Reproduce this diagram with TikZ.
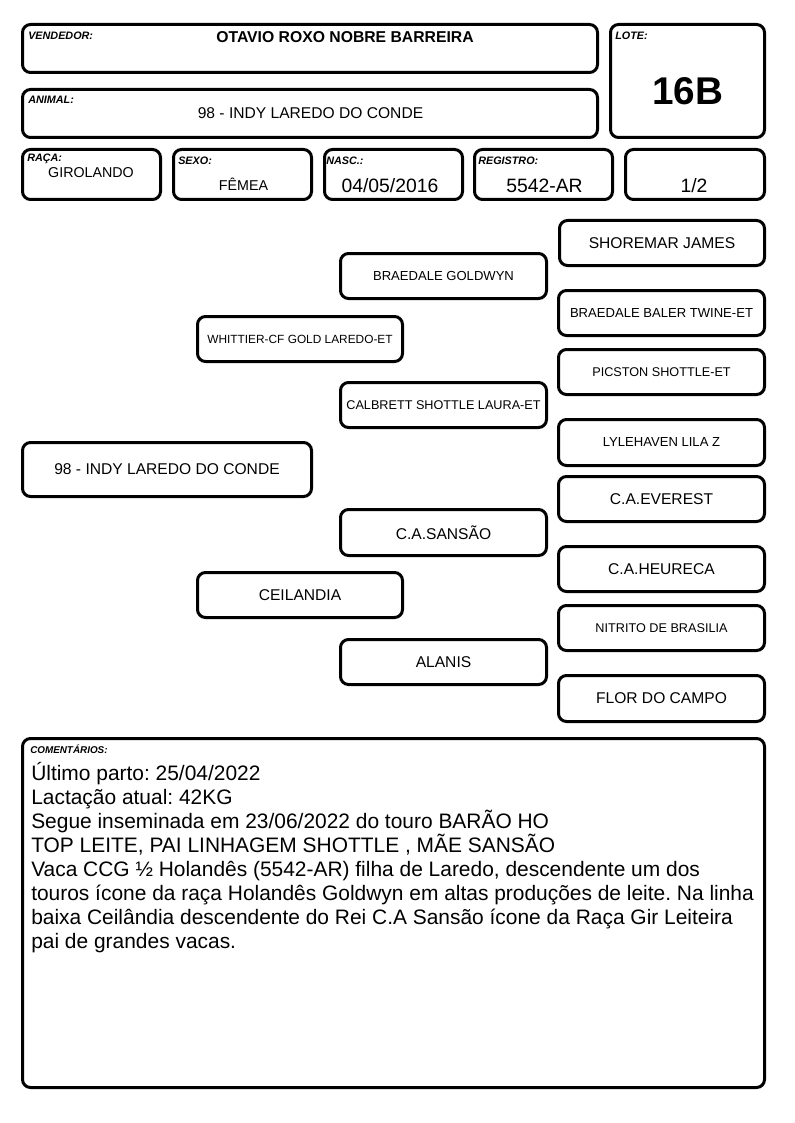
\documentclass[tikz,border=0pt]{standalone}
\usepackage{fontspec}
\setmainfont{Liberation Sans}
\usetikzlibrary{fit}
\frenchspacing
\newcommand\fsz[1]{\fontsize{#1}{#1}\selectfont}
\begin{document}
\begin{tikzpicture}[x=0.75pt,y=-0.75pt,
  frame/.style={draw=black, line width=2.25pt, rounded corners=6pt, inner sep=0pt},
  lbl/.style={anchor=west, inner sep=0pt, font=\fsz{8.1}\bfseries\itshape},
  val/.style={inner sep=0pt},
  pbig/.style={label={[inner sep=0pt, font=\fsz{11.7}]center:#1}},
  pmid/.style={label={[inner sep=0pt, font=\fsz{9.8}]center:#1}},
  psmall/.style={label={[inner sep=0pt, font=\fsz{9.5}]center:#1}},
  ptiny/.style={label={[inner sep=0pt, font=\fsz{8.9}]center:#1}},
]
\useasboundingbox (0,0) rectangle (794,1123);
\fill[white] (0,0) rectangle (794,1123);

% ---------- header ----------
\node[frame, fit={(22.5,24.5) (597.5,72.5)}] (vend) {};
\node[frame, fit={(22.5,89.5) (597.5,137.5)}] (anim) {};
\node[frame, fit={(610.5,24.5) (764.5,137.5)}] (lote) {};
\node[frame, fit={(22.5,149.5) (160.5,199.5)}] (raca) {};
\node[frame, fit={(173.5,149.5) (311.5,199.5)}] (sexo) {};
\node[frame, fit={(324.5,149.5) (462.5,199.5)}] (nasc) {};
\node[frame, fit={(474.5,149.5) (612.5,199.5)}] (regi) {};
\node[frame, fit={(625.5,149.5) (764.5,199.5)}] (frac) {};

\node[lbl] (lvend) at (28,36) {VENDEDOR:};
\node[val, font=\fsz{11.8}\bfseries] (tvend) at (345,37.5) {OTAVIO ROXO NOBRE BARREIRA};
\node[lbl] (lanim) at (28,100) {ANIMAL:};
\node[val, font=\fsz{11.7}] (tanim) at (310.5,113.5) {98 - INDY LAREDO DO CONDE};
\node[lbl] (llote) at (615,36) {LOTE:};
\node[val, font=\fsz{29}\bfseries] (tlote) at (687.5,91) {16B};
\node[lbl] (lraca) at (27,159) {RAÇA:};
\node[val, font=\fsz{10.7}] (traca) at (91,172.5) {GIROLANDO};
\node[lbl] (lsexo) at (178,161) {SEXO:};
\node[val, font=\fsz{10.7}] (tsexo) at (243.5,184) {FÊMEA};
\node[lbl] (lnasc) at (326,161) {NASC.:};
\node[val, font=\fsz{14.5}] (tnasc) at (390,185.5) {04/05/2016};
\node[lbl] (lregi) at (478,161) {REGISTRO:};
\node[val, font=\fsz{14.5}] (tregi) at (544.5,185.5) {5542-AR};
\node[val, font=\fsz{14.5}] (tfrac) at (694,185.5) {1/2};

% ---------- pedigree ----------
\node[frame, pbig={98 - INDY LAREDO DO CONDE}, fit={(22.5,442.5) (311.5,496.5)}] (main) {};

\node[frame, ptiny={WHITTIER-CF GOLD LAREDO-ET}, fit={(197.5,316.5) (402.5,361.5)}] (whit) {};
\node[frame, pbig={CEILANDIA}, fit={(197.5,572.5) (402.5,617.5)}] (ceil) {};

\node[frame, pmid={BRAEDALE GOLDWYN}, fit={(340.5,253.5) (546.5,298.5)}] (gold) {};
\node[frame, psmall={CALBRETT SHOTTLE LAURA-ET}, fit={(340.5,382.5) (546.5,427.5)}] (calb) {};
\node[frame, pbig={C.A.SANSÃO}, fit={(340.5,509.5) (546.5,555.5)}] (sans) {};
\node[frame, pbig={ALANIS}, fit={(340.5,639.5) (546.5,684.5)}] (alan) {};

\node[frame, pbig={SHOREMAR JAMES}, fit={(559.5,220.5) (764.5,265.5)}] (shor) {};
\node[frame, pmid={BRAEDALE BALER TWINE-ET}, fit={(558.5,290.5) (764.5,335.5)}] (bale) {};
\node[frame, psmall={PICSTON SHOTTLE-ET}, fit={(558.5,349.5) (764.5,394.5)}] (pics) {};
\node[frame, pmid={LYLEHAVEN LILA Z}, fit={(558.5,419.5) (764.5,465.5)}] (lyle) {};
\node[frame, pbig={C.A.EVEREST}, fit={(558.5,476.5) (764.5,521.5)}] (ever) {};
\node[frame, pbig={C.A.HEURECA}, fit={(558.5,546.5) (764.5,591.5)}] (heur) {};
\node[frame, psmall={NITRITO DE BRASILIA}, fit={(558.5,605.5) (764.5,650.5)}] (nitr) {};
\node[frame, pbig={FLOR DO CAMPO}, fit={(558.5,675.5) (764.5,721.5)}] (flor) {};

% ---------- comments ----------
\node[frame, fit={(22.5,738.5) (764.5,1087.5)}] (comm) {};
\node[lbl, font=\fsz{7.4}\bfseries\itshape] (lcomm) at (30,749) {COMENTÁRIOS:};
\foreach \t [count=\i from 0] in {
  {Último parto: 25/04/2022},
  {Lactação atual: 42KG},
  {Segue inseminada em 23/06/2022 do touro BARÃO HO},
  {TOP LEITE, PAI LINHAGEM SHOTTLE , MÃE SANSÃO},
  {Vaca CCG ½ Holandês (5542-AR) filha de Laredo, descendente um dos},
  {touros ícone da raça Holandês Goldwyn em altas produções de leite. Na linha},
  {baixa Ceilândia descendente do Rei C.A Sansão ícone da Raça Gir Leiteira},
  {pai de grandes vacas.}}
  \node[anchor=base west, inner sep=0pt, font=\fsz{15.7}] (cm\i) at (31,{780.5+24*\i}) {\t};
\end{tikzpicture}
\end{document}
